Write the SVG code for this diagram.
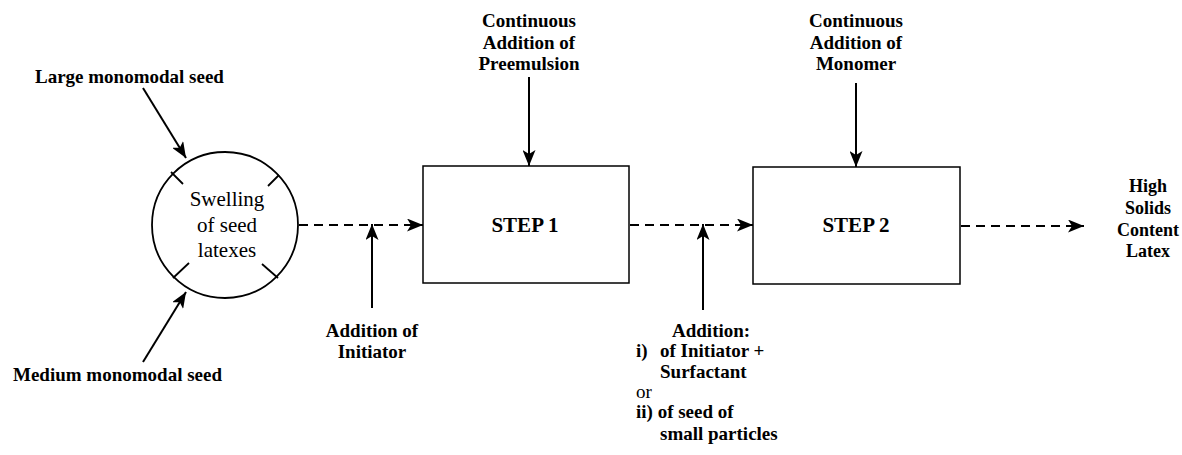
<svg xmlns="http://www.w3.org/2000/svg" width="1182" height="455" viewBox="0 0 1182 455">
<defs>
<marker id="ah" viewBox="0 0 16 13" refX="16" refY="6.5" markerWidth="16" markerHeight="13" markerUnits="userSpaceOnUse" orient="auto">
<path d="M0,0 L16,6.5 L0,13 L4,6.5 Z" fill="#000"/>
</marker>
</defs>
<style>
.lbl{font-family:"Liberation Serif","Times New Roman",serif;font-weight:bold;font-size:19px;fill:#000}
.out{font-family:"Liberation Serif","Times New Roman",serif;font-weight:bold;font-size:18px;fill:#000}
.reg{font-family:"Liberation Serif","Times New Roman",serif;font-size:19px;fill:#000}
.sw{font-family:"Liberation Serif","Times New Roman",serif;font-size:21px;fill:#000}
.step{font-family:"Liberation Serif","Times New Roman",serif;font-weight:bold;font-size:21px;fill:#000}
.box{fill:#fff;stroke:#000;stroke-width:1.5}
.solid{fill:none;stroke:#000;stroke-width:2;marker-end:url(#ah)}
.dash{fill:none;stroke:#000;stroke-width:2;stroke-dasharray:9 6;marker-end:url(#ah)}
.tick{stroke:#000;stroke-width:1.8}
</style>
<rect width="1182" height="455" fill="#fff"/>
<g id="connectors">
<line class="solid" x1="143" y1="88" x2="186" y2="158"/>
<line class="solid" x1="143" y1="362" x2="186" y2="292"/>
<line class="dash" x1="299" y1="225" x2="423" y2="225"/>
<line class="solid" x1="372" y1="308" x2="372" y2="224"/>
<line class="solid" x1="529" y1="77" x2="529" y2="166"/>
<line class="dash" x1="630" y1="225" x2="753" y2="225"/>
<line class="solid" x1="703" y1="310" x2="703" y2="224"/>
<line class="solid" x1="856" y1="83" x2="856" y2="167"/>
<line class="dash" x1="961" y1="226" x2="1084" y2="226"/>
</g>
<g id="swelling">
<circle cx="225" cy="225" r="73" fill="#fff" stroke="#000" stroke-width="1.8"/>
<line class="tick" x1="171" y1="172" x2="183" y2="184"/>
<line class="tick" x1="279" y1="175" x2="268" y2="186"/>
<line class="tick" x1="173" y1="278" x2="189" y2="263"/>
<line class="tick" x1="262" y1="264" x2="278" y2="278"/>
<text class="sw" text-anchor="middle" x="227" y="206">Swelling</text>
<text class="sw" text-anchor="middle" x="227" y="232">of seed</text>
<text class="sw" text-anchor="middle" x="227" y="257">latexes</text>
</g>
<g id="large-seed">
<text class="lbl" x="35" y="83">Large monomodal seed</text>
</g>
<g id="medium-seed">
<text class="lbl" x="13" y="381">Medium monomodal seed</text>
</g>
<g id="step1">
<rect class="box" x="423" y="166" width="206" height="117"/>
<text class="step" text-anchor="middle" x="525" y="232">STEP 1</text>
</g>
<g id="step2">
<rect class="box" x="753" y="167" width="207" height="117"/>
<text class="step" text-anchor="middle" x="856" y="232">STEP 2</text>
</g>
<g id="preemulsion">
<text class="lbl" text-anchor="middle" x="529" y="27">Continuous</text>
<text class="lbl" text-anchor="middle" x="529" y="49">Addition of</text>
<text class="lbl" text-anchor="middle" x="529" y="70">Preemulsion</text>
</g>
<g id="monomer">
<text class="lbl" text-anchor="middle" x="856" y="27">Continuous</text>
<text class="lbl" text-anchor="middle" x="856" y="49">Addition of</text>
<text class="lbl" text-anchor="middle" x="856" y="70">Monomer</text>
</g>
<g id="initiator">
<text class="lbl" text-anchor="middle" x="372" y="337">Addition of</text>
<text class="lbl" text-anchor="middle" x="372" y="358">Initiator</text>
</g>
<g id="addition">
<text class="lbl" x="672" y="337">Addition:</text>
<text class="lbl" x="636" y="357">i)</text>
<text class="lbl" x="660" y="357">of Initiator +</text>
<text class="lbl" x="660" y="378">Surfactant</text>
<text class="reg" x="636" y="398">or</text>
<text class="lbl" x="636" y="418">ii) of seed of</text>
<text class="lbl" x="660" y="440">small particles</text>
</g>
<g id="output">
<text class="out" text-anchor="middle" x="1148" y="192">High</text>
<text class="out" text-anchor="middle" x="1148" y="214">Solids</text>
<text class="out" text-anchor="middle" x="1148" y="236">Content</text>
<text class="out" text-anchor="middle" x="1148" y="257">Latex</text>
</g>
</svg>
